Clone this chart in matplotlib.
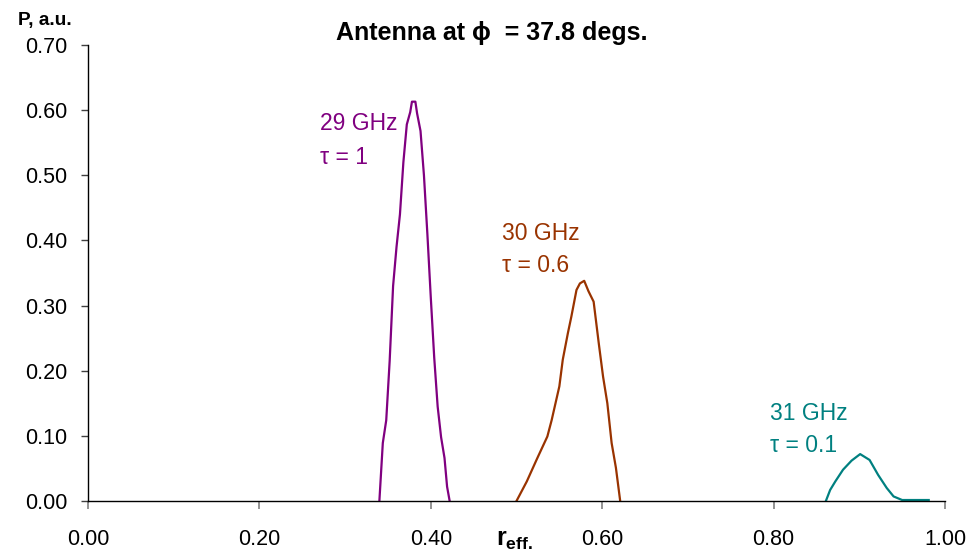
import matplotlib
matplotlib.use("Agg")
import matplotlib.pyplot as plt

plt.rcParams['font.family'] = ['Liberation Sans', 'DejaVu Sans']
plt.rcParams['mathtext.fontset'] = 'custom'
plt.rcParams['mathtext.rm'] = 'Liberation Sans'
plt.rcParams['mathtext.bf'] = 'Liberation Sans:bold'

# ---- data ----
r_29 = [0.340, 0.344, 0.348, 0.352, 0.356, 0.360, 0.364, 0.368, 0.372, 0.376,
        0.378, 0.382, 0.384, 0.388, 0.392, 0.396, 0.400, 0.404, 0.408, 0.412, 0.416,
        0.419, 0.422]
p_29 = [0.0, 0.089, 0.124, 0.215, 0.330, 0.390, 0.440, 0.520, 0.578, 0.597,
        0.613, 0.613, 0.595, 0.568, 0.500, 0.410, 0.312, 0.220, 0.145, 0.098, 0.066,
        0.022, 0.0]

r_30 = [0.500, 0.512, 0.524, 0.536, 0.541, 0.550, 0.554, 0.560, 0.564, 0.570, 0.574,
        0.579, 0.584, 0.590, 0.596, 0.601, 0.606, 0.611, 0.616, 0.621]
p_30 = [0.0, 0.030, 0.065, 0.099, 0.124, 0.176, 0.217, 0.258, 0.283, 0.324, 0.334,
        0.338, 0.322, 0.306, 0.242, 0.191, 0.150, 0.089, 0.051, 0.0]

r_31 = [0.861, 0.866, 0.872, 0.881, 0.891, 0.901, 0.912, 0.922, 0.932, 0.940, 0.950, 0.981]
p_31 = [0.0, 0.017, 0.030, 0.048, 0.062, 0.072, 0.063, 0.040, 0.020, 0.007, 0.0015, 0.0015]

x_ticks = [0.0, 0.2, 0.4, 0.6, 0.8, 1.0]
y_ticks = [0.0, 0.1, 0.2, 0.3, 0.4, 0.5, 0.6, 0.7]

c29 = '#800080'
c30 = '#993300'
c31 = '#008080'

W, H = 973, 553
fig = plt.figure(figsize=(W / 100, H / 100), dpi=100)
ax = fig.add_axes([88 / W, 1 - 501 / H, (945 - 88) / W, (501 - 45) / H])

ax.plot(r_29, p_29, color=c29, lw=1.6)
ax.plot(r_30, p_30, color=c30, lw=1.6)
ax.plot(r_31, p_31, color=c31, lw=1.6)

ax.set_xlim(0, 1.0)
ax.set_ylim(0, 0.7)
ax.set_xticks(x_ticks)
ax.set_xticklabels([f'{v:.2f}' for v in x_ticks])
ax.set_yticks(y_ticks)
ax.set_yticklabels([f'{v:.2f}' for v in y_ticks])
for s in ['top', 'right']:
    ax.spines[s].set_visible(False)
ax.spines['left'].set_linewidth(1.0)
ax.spines['bottom'].set_linewidth(1.0)
ax.tick_params(axis='x', direction='out', length=6, width=1.2, color='#808080',
               labelsize=15.5, pad=14)
ax.tick_params(axis='y', direction='out', length=5, width=1.0, color='#404040',
               labelsize=15.5, pad=10)


def ftext(px, py, s, **kw):
    fig.text(px / W, 1 - py / H, s, **kw)


ftext(492, 33, 'Antenna at ϕ  = 37.8 degs.', ha='center', va='center',
      fontsize=18, fontweight='bold')
ftext(18, 21, 'P, a.u.', ha='left', va='center', fontsize=13.8, fontweight='bold')
ftext(496, 540, r'$\mathbf{r}_{\mathbf{eff.}}$', ha='left', va='center', fontsize=18)

fs = 16.5
ftext(320, 124, '29 GHz', ha='left', va='center', fontsize=fs, color=c29)
ftext(320, 157, 'τ = 1', ha='left', va='center', fontsize=fs, color=c29)
ftext(502, 234, '30 GHz', ha='left', va='center', fontsize=fs, color=c30)
ftext(502, 266, 'τ = 0.6', ha='left', va='center', fontsize=fs, color=c30)
ftext(770, 414, '31 GHz', ha='left', va='center', fontsize=fs, color=c31)
ftext(770, 445, 'τ = 0.1', ha='left', va='center', fontsize=fs, color=c31)

fig.savefig('out.png', dpi=100)
